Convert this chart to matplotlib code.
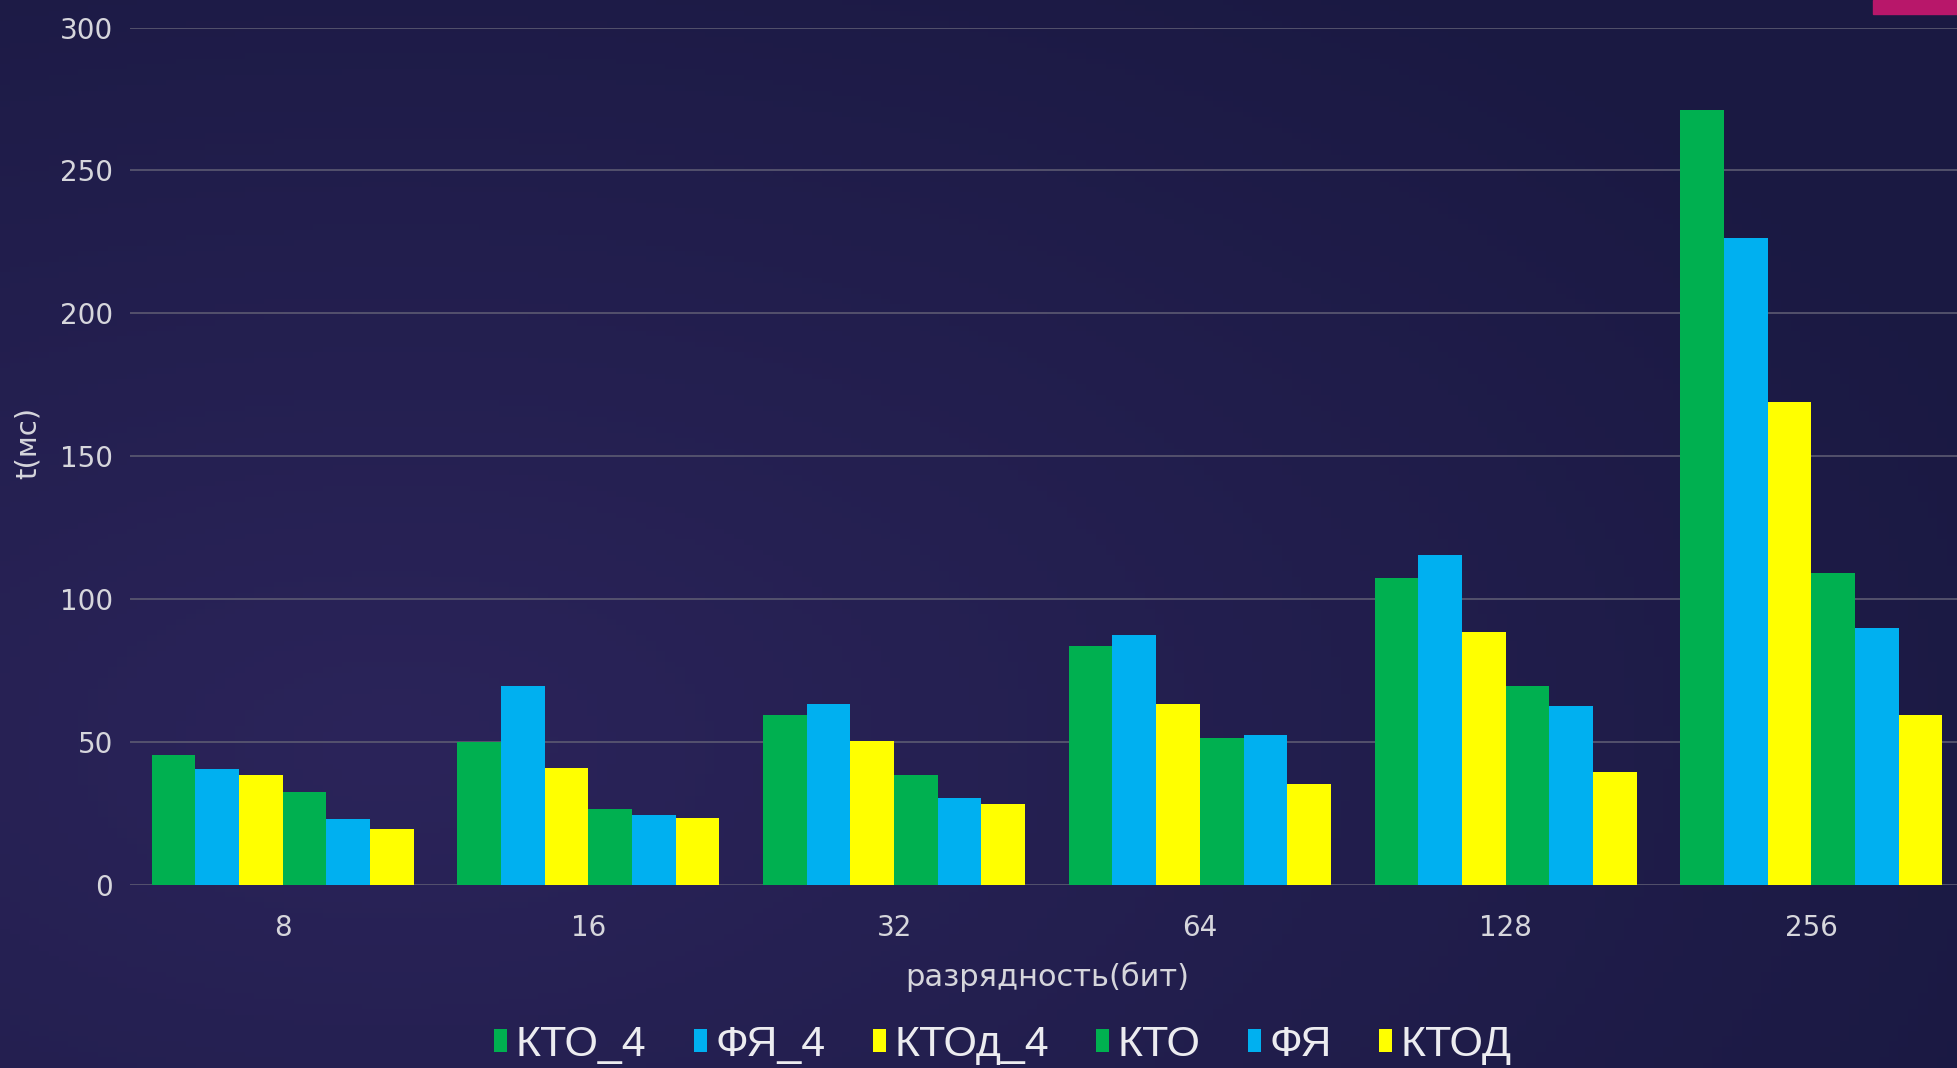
import numpy as np
import matplotlib
matplotlib.use('Agg')
import matplotlib.pyplot as plt
from matplotlib.patches import Rectangle

categories = ['8', '16', '32', '64', '128', '256']
series_names = ['КТО_4', 'ФЯ_4', 'КТОд_4', 'КТО', 'ФЯ', 'КТОД']
kto_4 = [45.5, 50, 59.5, 83.5, 107.5, 271]
fya_4 = [40.5, 69.5, 63.5, 87.5, 115.5, 226.5]
ktod_4 = [38.5, 41, 50.5, 63.5, 88.5, 169]
kto = [32.5, 26.5, 38.5, 51.5, 69.5, 109]
fya = [23, 24.5, 30.5, 52.5, 62.5, 90]
ktod = [19.5, 23.5, 28.5, 35.5, 39.5, 59.5]
colors = ['#00B050', '#00B0F0', '#FFFF00', '#00B050', '#00B0F0', '#FFFF00']

plt.rcParams['font.family'] = ['DejaVu Sans']

fig = plt.figure(figsize=(19.57, 10.68), dpi=100)

# background gradient
bg = fig.add_axes([0, 0, 1, 1], zorder=-10)
yy, xx = np.mgrid[0:1:200j, 0:1:200j]
d = np.sqrt((xx - 0.2) ** 2 + (yy - 0.7) ** 2)
t = np.clip(1 - d / 0.9, 0, 1)
c0 = np.array([0x1a, 0x19, 0x42]) / 255
c1 = np.array([0x2b, 0x24, 0x5a]) / 255
img = c0[None, None, :] * (1 - t[..., None]) + c1[None, None, :] * t[..., None]
bg.imshow(img, aspect='auto', extent=[0, 1, 0, 1], origin='upper')
bg.axis('off')

ax = fig.add_axes([0.0664, 0.1713, 0.9372, 0.8029])
ax.set_facecolor('none')

x = np.arange(len(categories))
width = 1 / 7
all_series = [kto_4, fya_4, ktod_4, kto, fya, ktod]
for i, vals in enumerate(all_series):
    ax.bar(x + (i - 2.5) * width, vals, width, color=colors[i], label=series_names[i], zorder=3)

ax.set_xlim(-0.5, 5.5)
ax.set_ylim(0, 300)
ax.set_yticks(range(0, 301, 50))
ax.set_xticks(x)
ax.set_xticklabels(categories)
ax.grid(axis='y', color='#5c5a72', linewidth=1.2, zorder=0)
for s in ax.spines.values():
    s.set_visible(False)
ax.tick_params(length=0, colors='#d6d6dc', labelsize=20)
ax.tick_params(axis='y', pad=12)
ax.tick_params(axis='x', pad=21)

ax.set_xlabel('разрядность(бит)', color='#d6d6dc', fontsize=22, labelpad=14)
fig.text(28 / 1957, 1 - 443 / 1068, 't(мс)', rotation=90, color='#d6d6dc',
         fontsize=21, ha='center', va='center')

fig.legend(loc='center', bbox_to_anchor=(1003 / 1957, 1 - 1045 / 1068), ncol=6,
           frameon=False, labelcolor='#ececf0',
           prop={'family': ['Liberation Sans', 'DejaVu Sans'], 'size': 31},
           handlelength=0.3, handleheight=0.45, handletextpad=0.2, columnspacing=1.1)

# pink tab in top-right corner
fig.patches.append(Rectangle((1873 / 1957, 1 - 14 / 1068), 84 / 1957, 14 / 1068,
                             transform=fig.transFigure, color='#b8176a', zorder=5))

fig.savefig('out.png', dpi=100)
